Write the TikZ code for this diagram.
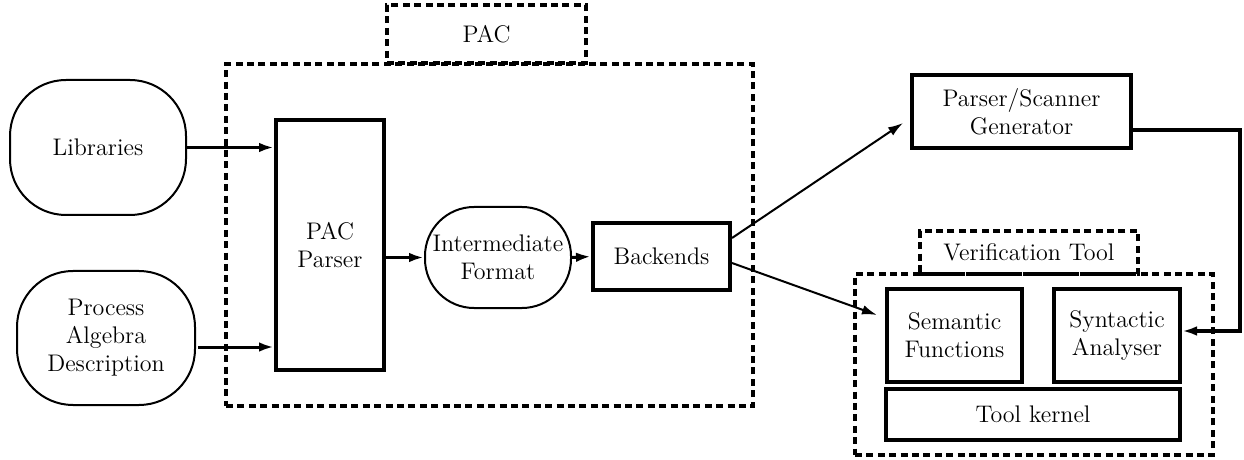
\documentclass[tikz,border=0pt]{standalone}
\usepackage{tikz}
\usetikzlibrary{arrows.meta}

\begin{document}
\begin{tikzpicture}[x=0.5pt,y=-0.5pt,>={Latex[length=7.5pt,width=4.8pt]},
  every node/.style={font=\large,align=center,inner sep=0pt},
  roundbox/.style={draw,line width=1pt,rounded corners=28pt},
  sqbox/.style={draw,line width=2pt},
  dashbox/.style={draw,line width=1.6pt,dash pattern=on 3.5pt off 2.2pt}]
  \useasboundingbox (0,0) rectangle (1244,460);

  % PAC block
  \node[dashbox,minimum width=263.5pt,minimum height=171pt] (pac) at (489.5,235) {};
  \node[dashbox,minimum width=99.5pt,minimum height=29pt] (paclbl) at (486.5,34) {PAC};

  % verification tool block
  \node[dashbox,minimum width=179pt,minimum height=90.5pt] (vt) at (1034,364.5) {};
  \node[dashbox,minimum width=109pt,minimum height=21.5pt] (vtlbl) at (1029,252.5) {Verification Tool};

  \node[roundbox,minimum width=88pt,minimum height=67.5pt] (lib) at (98,147.5) {Libraries};
  \node[roundbox,minimum width=89pt,minimum height=67pt] (proc) at (106,338) {Process\\Algebra\\Description};
  \node[sqbox,minimum width=54pt,minimum height=125pt] (parser) at (330,245) {PAC\\Parser};
  \node[roundbox,rounded corners=24.5pt,minimum width=73pt,minimum height=50.5pt] (inter) at (498,257.5) {Intermediate\\Format};
  \node[sqbox,minimum width=68.5pt,minimum height=33.5pt] (back) at (661.5,256.5) {Backends};
  \node[sqbox,minimum width=109.5pt,minimum height=36.5pt] (psg) at (1021.5,111.5) {Parser/Scanner\\Generator};
  \node[sqbox,minimum width=67.5pt,minimum height=46.5pt] (sem) at (954.5,335.5) {Semantic\\Functions};
  \node[sqbox,minimum width=63pt,minimum height=46.5pt] (syn) at (1117,335.5) {Syntactic\\Analyser};
  \node[sqbox,minimum width=147pt,minimum height=25.5pt] (kern) at (1033,414.5) {Tool kernel};

  \draw[->,line width=1.5pt] (lib.east) -- (lib.east -| parser.west);
  \draw[->,line width=1.5pt] ([shift={(1pt,-4.5pt)}]proc.east) -- ([yshift=-4.5pt]proc.east -| parser.west);
  \draw[->,line width=1.5pt] (parser.east |- inter) -- (inter.west);
  \draw[->,line width=1.5pt] (inter.east) -- (back.west);
  \draw[->,line width=1pt] ([yshift=9.25pt]back.east) -- ([shift={(-3.5pt,-5.75pt)}]psg.west);
  \draw[->,line width=1pt] ([yshift=-3.25pt]back.east) -- ([shift={(-4pt,10.25pt)}]sem.west);
  \draw[->,line width=1.6pt] ([yshift=-9.25pt]psg.east) -- ++(107,0) |- ([yshift=2.25pt]syn.east);

\end{tikzpicture}
\end{document}
